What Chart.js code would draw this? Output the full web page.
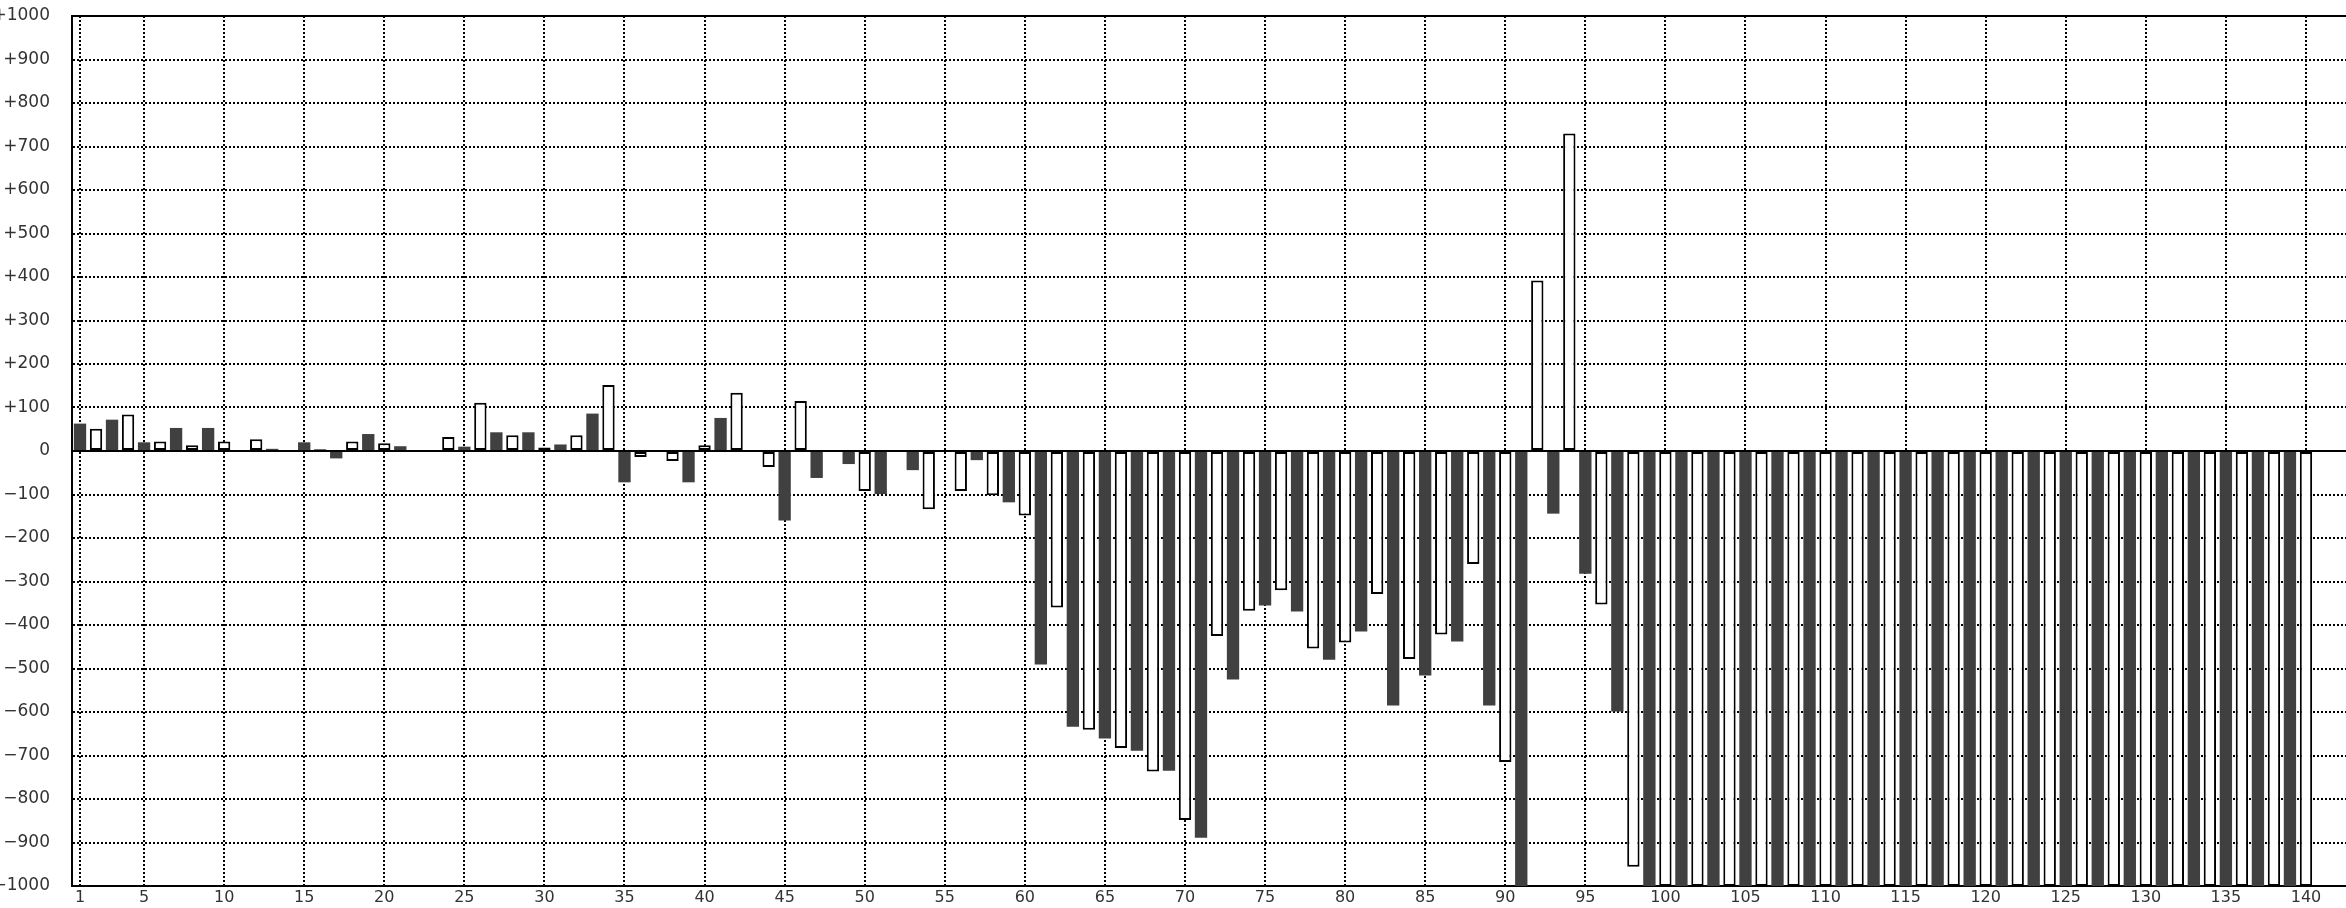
<!DOCTYPE html>
<html>
<head>
<meta charset="utf-8">
<script src="https://cdn.jsdelivr.net/npm/chart.js@4/dist/chart.umd.min.js"></script>
<style>
  html, body { margin: 0; padding: 0; background: #fff; }
  #wrap { width: 2346px; height: 908px; position: relative; }
</style>
</head>
<body>
<div id="wrap"><canvas id="chart"></canvas></div>
<script>
// x categories run 1..142, bars stop at 140
const categories = Array.from({ length: 142 }, (_, i) => i + 1);
const xTickLabels = [1, 5, 10, 15, 20, 25, 30, 35, 40, 45, 50, 55, 60, 65, 70,
  75, 80, 85, 90, 95, 100, 105, 110, 115, 120, 125, 130, 135, 140];

const yMin = -1000;
const yMax = 1000;
const yStep = 100;

// dark bars: categories 1, 3, 5 ... 139
const oddValues = [
  63, 72, 20, 53, 53, 0, 5, 20, -17, 39,
  11, 0, 10, 43, 43, 15, 86, -72, 0, -72,
  76, 0, -160, -62, -30, -99, -44, 0, -21, -118,
  -491, -634, -661, -689, -735, -889, -525, -355, -369, -480,
  -415, -585, -516, -438, -585, -1000, -144, -282, -599, -1000,
  -1000, -1000, -1000, -1000, -1000, -1000, -1000, -1000, -1000, -1000,
  -1000, -1000, -1000, -1000, -1000, -1000, -1000, -1000, -1000, -1000
];

// white bars: categories 2, 4, 6 ... 140
const evenValues = [
  51, 84, 22, 13, 22, 27, 0, 4, 22, 18,
  0, 32, 111, 36, 8, 36, 152, -14, -23, 13,
  134, -37, 115, 0, -92, 0, -134, -92, -102, -148,
  -360, -641, -683, -737, -848, -425, -367, -320, -454, -440,
  -329, -478, -422, -260, -715, 392, 730, -353, -956, -1000,
  -1000, -1000, -1000, -1000, -1000, -1000, -1000, -1000, -1000, -1000,
  -1000, -1000, -1000, -1000, -1000, -1000, -1000, -1000, -1000, -1000
];

// spread each series over the category axis (null where the other series sits)
const spread = (vals, parity) => categories.map(c => {
  if (c % 2 !== parity) return null;
  const v = vals[(c - 1 - (parity === 1 ? 0 : 1)) / 2];
  return v === undefined ? null : v;
});

Chart.defaults.font.family = "'DejaVu Sans', sans-serif";
Chart.defaults.font.size = 17;
Chart.defaults.color = "#333";

const ctx = document.getElementById("chart");

new Chart(ctx, {
  type: "bar",
  data: {
    labels: categories,
    datasets: [
      {
        label: "odd",
        data: spread(oddValues, 1),
        backgroundColor: "#404040",
        borderWidth: 0
      },
      {
        label: "even",
        data: spread(evenValues, 0),
        backgroundColor: "#ffffff",
        borderColor: "#000000",
        borderWidth: 2,
        borderSkipped: false
      }
    ]
  },
  options: {
    responsive: true,
    maintainAspectRatio: false,
    animation: false,
    devicePixelRatio: 1,
    layout: { padding: { top: 16, right: 0, bottom: 0, left: 0 } },
    datasets: {
      bar: {
        grouped: false,
        categoryPercentage: 0.77,
        barPercentage: 1
      }
    },
    plugins: {
      legend: { display: false },
      tooltip: { enabled: false }
    },
    scales: {
      x: {
        offset: true,
        afterFit: (scale) => {
          scale.height = 22;
          scale.paddingLeft = 0;
          scale.paddingRight = 0;
        },
        grid: {
          offset: false,
          drawTicks: false,
          lineWidth: 2,
          color: (c) => xTickLabels.includes(categories[c.index]) ? "#000" : "rgba(0,0,0,0)"
        },
        border: { display: true, color: "#000", width: 2, dash: [2, 2] },
        ticks: {
          autoSkip: false,
          maxRotation: 0,
          minRotation: 0,
          padding: 2,
          font: { size: 16 },
          callback: (value, index) => xTickLabels.includes(categories[index]) ? String(categories[index]) : ""
        }
      },
      y: {
        min: yMin,
        max: yMax,
        afterFit: (scale) => {
          scale.width = 72;
          scale.paddingTop = 0;
          scale.paddingBottom = 0;
        },
        grid: {
          drawTicks: false,
          lineWidth: 2,
          color: "#000"
        },
        border: {
          display: true,
          color: "#000",
          width: 2,
          dash: (c) => (c.tick && (c.tick.value === 0 || c.tick.value === yMax)) ? [] : [2, 2]
        },
        ticks: {
          stepSize: yStep,
          padding: 22,
          callback: (v) => v > 0 ? "+" + v : (v < 0 ? "\u2212" + Math.abs(v) : "0")
        }
      }
    }
  }
});
</script>
</body>
</html>
